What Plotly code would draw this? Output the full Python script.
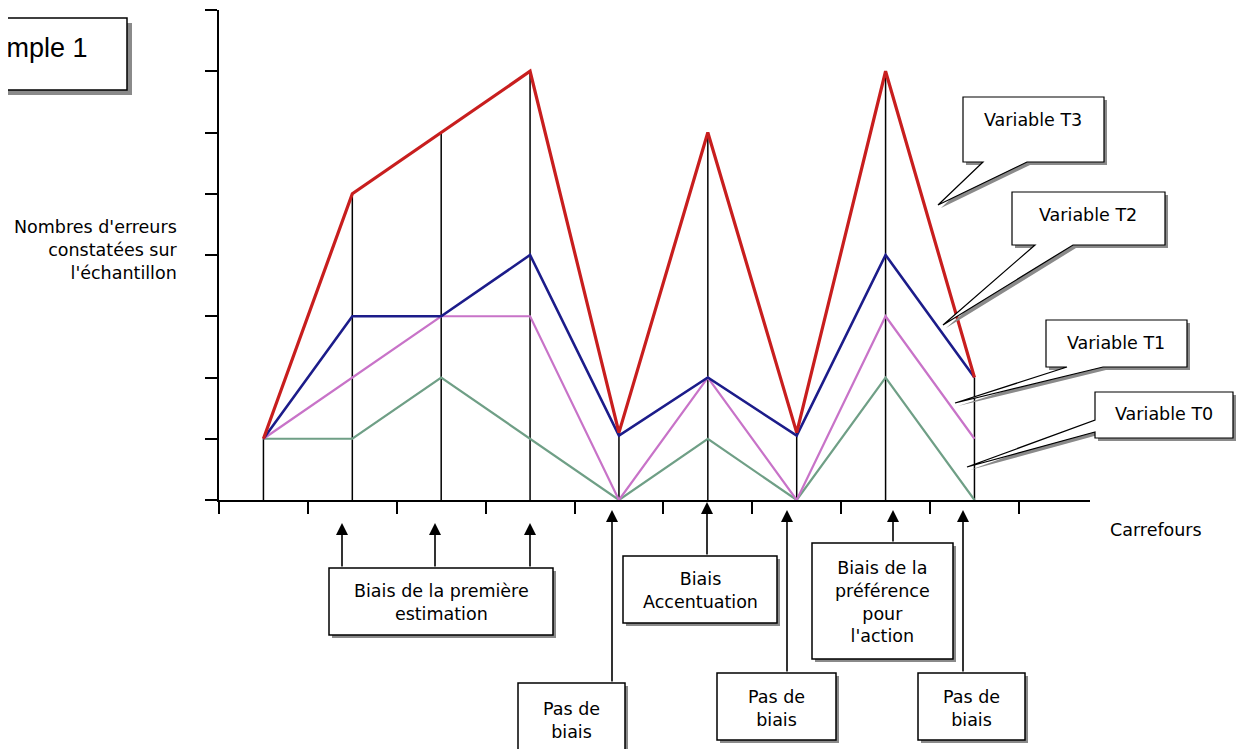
import plotly.graph_objects as go

# ---------------- data ----------------
carrefours = [1, 2, 3, 4, 5, 6, 7, 8, 9]
variable_t3 = [1, 5, 6, 7, 1.1, 6, 1.1, 7, 2]
variable_t2 = [1, 3, 3, 4, 1.05, 2, 1.05, 4, 2]
variable_t1 = [1, 2, 3, 3, 0, 2, 0, 3, 1]
variable_t0 = [1, 1, 2, 1, 0, 1, 0, 2, 0]
x_ticks = [0.5, 1.5, 2.5, 3.5, 4.5, 5.5, 6.5, 7.5, 8.5, 9.5]
y_ticks = [0, 1, 2, 3, 4, 5, 6, 7, 8]

FONT = "DejaVu Sans"
FS = 17.5

W, H = 1247, 749
BODY = 8  # default page margin of the html body
L, R, T, B = 219, 157, 10, 249  # page-pixel position of the plot area
PW, PH = W - L - R, H - T - B


def px(x):
    return (x - L) / PW


def py(y):
    return (T + PH - y) / PH


fig = go.Figure()

# drop lines from the top value down to the axis
tops = [max(a, b, c, d) for a, b, c, d in zip(variable_t3, variable_t2, variable_t1, variable_t0)]
dx, dy = [], []
for xv, tv in zip(carrefours, tops):
    dx += [xv, xv, None]
    dy += [0, tv, None]
fig.add_trace(go.Scatter(x=dx, y=dy, mode="lines", line=dict(color="black", width=1.5),
                         hoverinfo="skip", showlegend=False))

series = [
    ("Variable T0", variable_t0, "#6f9f86", 2.2),
    ("Variable T1", variable_t1, "#c873c8", 2.2),
    ("Variable T2", variable_t2, "#1c1c8a", 2.6),
    ("Variable T3", variable_t3, "#c81e1e", 3.2),
]
for name, vals, col, wd in series:
    fig.add_trace(go.Scatter(x=carrefours, y=vals, mode="lines", name=name,
                             line=dict(color=col, width=wd), showlegend=False))

shapes = []
annotations = []


def rect_box(x0, y0, x1, y1, shadow=3):
    shapes.append(dict(type="rect", xref="paper", yref="paper",
                       x0=px(x0 + shadow), x1=px(x1 + shadow), y0=py(y0 + shadow), y1=py(y1 + shadow),
                       fillcolor="#8a8a8a", line=dict(width=0), layer="above"))
    shapes.append(dict(type="rect", xref="paper", yref="paper",
                       x0=px(x0), x1=px(x1), y0=py(y0), y1=py(y1),
                       fillcolor="white", line=dict(color="black", width=1.5), layer="above"))


def path_of(points, dxo=0, dyo=0):
    parts = []
    for i, (a, b) in enumerate(points):
        parts.append(("M" if i == 0 else "L") + f" {px(a + dxo):.5f},{py(b + dyo):.5f}")
    return " ".join(parts) + " Z"


def callout(x0, y0, x1, y1, tip, base, side="bottom"):
    if side == "bottom":
        pts = [(x0, y0), (x1, y0), (x1, y1), (base[1], y1), tip, (base[0], y1), (x0, y1)]
    else:
        pts = [(x0, y0), (x1, y0), (x1, y1), (x0, y1), (x0, base[1]), tip, (x0, base[0])]
    shapes.append(dict(type="path", xref="paper", yref="paper", path=path_of(pts, 3, 3),
                       fillcolor="#8a8a8a", line=dict(width=0), layer="above"))
    shapes.append(dict(type="path", xref="paper", yref="paper", path=path_of(pts),
                       fillcolor="white", line=dict(color="black", width=1.2), layer="above"))


def text(xc, yc, s, size=FS, anchor="center", align="center", family=FONT):
    annotations.append(dict(x=px(xc), y=py(yc), xref="paper", yref="paper", text=s,
                            showarrow=False, xanchor=anchor, yanchor="middle", align=align,
                            font=dict(family=family, size=size, color="black")))


def arrow(x, ytip, ytail):
    annotations.append(dict(x=px(x), y=py(ytip), xref="paper", yref="paper", text="",
                            showarrow=True, ax=0, ay=ytail - ytip, axref="pixel", ayref="pixel",
                            arrowhead=2, arrowsize=1.5, arrowwidth=1.6, arrowcolor="black"))


# Exemple 1 box (cut at left edge)
rect_box(-60, 18, 127, 90, shadow=5)
text(90, 48, "Exemple 1", size=27, anchor="right", family="Liberation Sans")

# axis titles
text(180, 250, "Nombres d'erreurs<br>constatées sur<br>l'échantillon", anchor="right", align="right")
text(1108, 530, "Carrefours", anchor="left")

# variable callouts
callout(963, 97, 1104, 162, (938, 205), (983, 1027))
text(1033, 120, "Variable T3")
callout(1012, 192, 1165, 245, (943, 325), (1035, 1073))
text(1088, 215, "Variable T2")
callout(1046, 320, 1187, 367, (955, 403), (1067, 1103))
text(1116, 343, "Variable T1")
callout(1095, 392, 1233, 438, (967, 467), (420, 432), side="left")
text(1164, 414, "Variable T0")

# bottom labels
for xa in (342, 435, 530):
    arrow(xa, 523, 568)
rect_box(329, 568, 553, 635)
text(441, 602, "Biais de la première<br>estimation")

arrow(707, 502, 556)
rect_box(623, 556, 777, 623)
text(700, 590, "Biais<br>Accentuation")

arrow(893, 510, 543)
rect_box(812, 543, 953, 659)
text(882, 602, "Biais de la<br>préférence<br>pour<br>l'action")

arrow(612, 510, 683)
rect_box(518, 683, 625, 770)
text(571, 720, "Pas de<br>biais")

arrow(787, 510, 673)
rect_box(717, 673, 836, 740)
text(776, 708, "Pas de<br>biais")

arrow(963, 510, 673)
rect_box(918, 673, 1025, 740)
text(971, 708, "Pas de<br>biais")

fig.update_layout(
    width=W, height=H,
    margin=dict(l=L - BODY, r=R + BODY, t=T - BODY, b=B + BODY),
    paper_bgcolor="white", plot_bgcolor="white",
    shapes=shapes, annotations=annotations,
    showlegend=False,
    xaxis=dict(range=[0.5, 10.3], tickmode="array", tickvals=x_ticks, showticklabels=False,
               ticks="outside", ticklen=12, tickwidth=1.5, tickcolor="black",
               showline=True, linecolor="black", linewidth=1.5,
               showgrid=False, zeroline=False, fixedrange=True),
    yaxis=dict(range=[0, 8], tickmode="array", tickvals=y_ticks, showticklabels=False,
               ticks="outside", ticklen=12, tickwidth=1.5, tickcolor="black",
               showline=True, linecolor="black", linewidth=1.5,
               showgrid=False, zeroline=False, fixedrange=True),
)

fig.write_html("out.html")
